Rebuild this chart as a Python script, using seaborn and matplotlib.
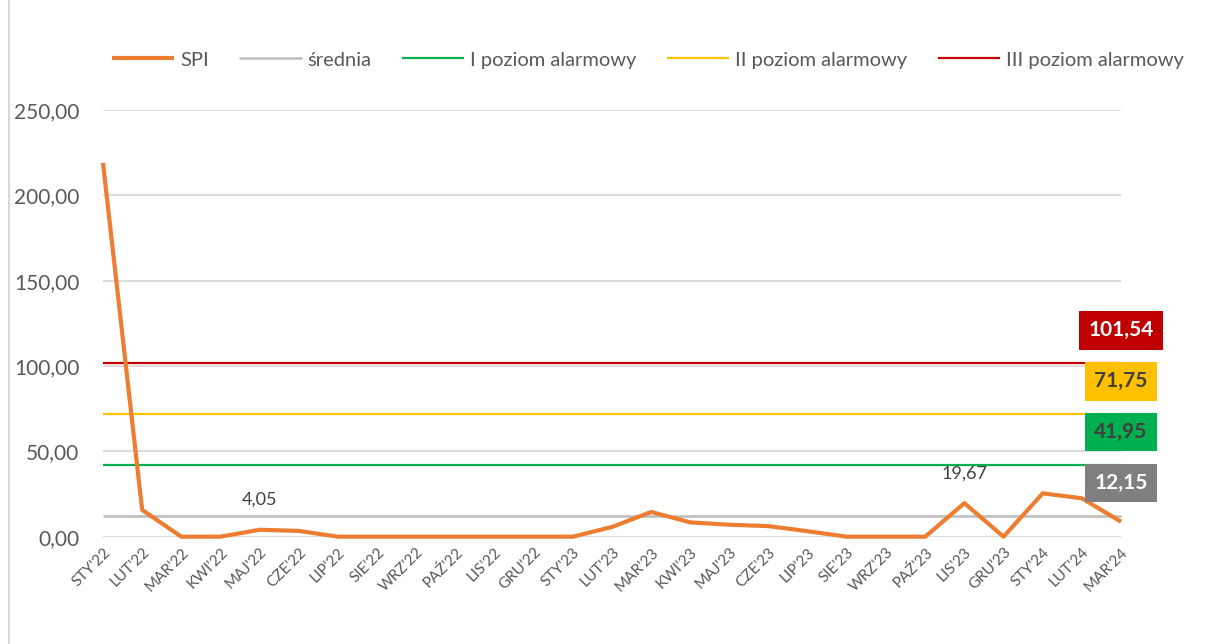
import pandas as pd
import seaborn as sns
import matplotlib.pyplot as plt

months = ["STY'22", "LUT'22", "MAR'22", "KWI'22", "MAJ'22", "CZE'22", "LIP'22",
          "SIE'22", "WRZ'22", "PAŹ'22", "LIS'22", "GRU'22",
          "STY'23", "LUT'23", "MAR'23", "KWI'23", "MAJ'23", "CZE'23", "LIP'23",
          "SIE'23", "WRZ'23", "PAŹ'23", "LIS'23", "GRU'23",
          "STY'24", "LUT'24", "MAR'24"]
spi = [219.0, 15.7, 0, 0, 4.05, 3.4, 0, 0, 0, 0, 0, 0,
       0, 5.7, 14.5, 8.4, 7.0, 6.2, 3.2, 0, 0, 0, 19.67, 0,
       25.4, 22.5, 8.8]
srednia = 12.15
poziom_1 = 41.95
poziom_2 = 71.75
poziom_3 = 101.54
labeled_points = {"MAJ'22": 4.05, "LIS'23": 19.67}

def pl(v):
    return f"{v:.2f}".replace(".", ",")

sns.set_theme(style="white")
plt.rcParams["font.family"] = ["Lato", "DejaVu Sans"]

n = len(months)
df = pd.DataFrame({"x": range(n), "SPI": spi})
df["średnia"] = srednia
df["I poziom alarmowy"] = poziom_1
df["II poziom alarmowy"] = poziom_2
df["III poziom alarmowy"] = poziom_3

fig = plt.figure(figsize=(12.05, 6.44), dpi=100)
ax = fig.add_axes([103 / 1205, 1 - 536.7 / 644, (1121 - 103) / 1205, (536.7 - 110) / 644])

styles = [
    ("SPI", "#ed7d31", 3.0, 5),
    ("średnia", "#bfbfbf", 1.9, 3),
    ("I poziom alarmowy", "#00b050", 1.6, 3),
    ("II poziom alarmowy", "#ffc000", 1.6, 3),
    ("III poziom alarmowy", "#c00000", 1.6, 3),
]
for col, color, lw, z in styles:
    sns.lineplot(data=df, x="x", y=col, color=color, linewidth=lw, label=col,
                 ax=ax, zorder=z, clip_on=False, solid_capstyle="butt")

ax.set_xlim(0, n - 1)
ax.set_ylim(0, 250)
ax.set_yticks(range(0, 251, 50))
ax.set_yticklabels([pl(v) for v in range(0, 251, 50)], fontsize=15, color="#595959")
ax.set_xticks(range(n))
ax.set_xticklabels(months, rotation=45, ha="right", va="top", rotation_mode="anchor",
                   fontsize=11, color="#595959")
ax.tick_params(axis="y", length=0, pad=17)
ax.tick_params(axis="x", length=0, pad=6)
ax.grid(axis="y", color="#d9d9d9", linewidth=1.3)
ax.set_axisbelow(True)
ax.set_xlabel("")
ax.set_ylabel("")
sns.despine(ax=ax, left=True, bottom=True)

# etykiety danych
for m, v in labeled_points.items():
    ax.annotate(pl(v), (months.index(m), v), xytext=(0, 30), textcoords="offset pixels",
                ha="center", va="center", fontsize=13, color="#404040")

# etykiety poziomów przy ostatnim punkcie
boxes = [
    (poziom_3, "#c00000", "white"),
    (poziom_2, "#ffc000", "#404040"),
    (poziom_1, "#00b050", "#404040"),
    (srednia, "#7f7f7f", "white"),
]
for v, bg, fg in boxes:
    ax.annotate(pl(v), (n - 1, v), xytext=(0, 33), textcoords="offset pixels",
                ha="center", va="center", fontsize=15, fontweight="bold", color=fg,
                bbox=dict(boxstyle="square,pad=0.45", fc=bg, ec="none"), zorder=10,
                annotation_clip=False)

handles, labels = ax.get_legend_handles_labels()
ax.get_legend().remove()
fig.legend(handles, labels, loc="center", bbox_to_anchor=(648 / 1205, 1 - 60 / 644),
           ncol=5, frameon=False, fontsize=14.5, labelcolor="#595959",
           handlelength=3.1, handletextpad=0.3, columnspacing=1.5)

fig.add_artist(plt.Line2D([8.5 / 1205, 8.5 / 1205], [0, 1], color="#d9d9d9", linewidth=1.5))

fig.savefig("out.png", dpi=100)
